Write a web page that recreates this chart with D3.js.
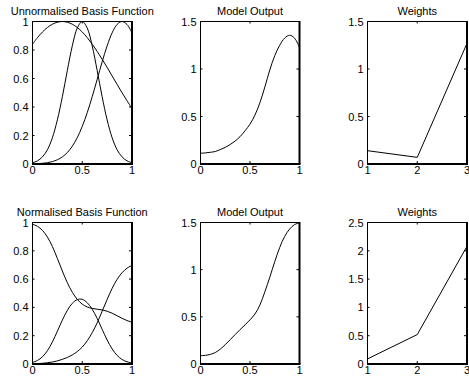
<!DOCTYPE html>
<html>
<head>
<meta charset="utf-8">
<script src="https://cdn.jsdelivr.net/npm/d3@7"></script>
<style>
  body { margin: 0; background: #fff; }
  svg { display: block; }
  text { font-family: "Liberation Sans", Arial, Helvetica, sans-serif; font-size: 11px; fill: #000; }
</style>
</head>
<body>
<div class="canvas"></div>
<script>
// sample positions along x (0..1) for the basis / output curves
const xs = [0, 0.05, 0.1, 0.15, 0.2, 0.25, 0.3, 0.35, 0.4, 0.45, 0.5,
            0.55, 0.6, 0.65, 0.7, 0.75, 0.8, 0.85, 0.9, 0.95, 1];

// unnormalised basis functions
const unnormA = [0.841, 0.887, 0.926, 0.958, 0.981, 0.995, 1.000, 0.995, 0.981, 0.958, 0.926,
                 0.887, 0.841, 0.790, 0.735, 0.678, 0.618, 0.559, 0.500, 0.444, 0.390];
const unnormB = [0.009, 0.022, 0.050, 0.100, 0.185, 0.310, 0.472, 0.656, 0.829, 0.954, 1.000,
                 0.954, 0.829, 0.656, 0.472, 0.310, 0.185, 0.100, 0.050, 0.022, 0.009];
const unnormC = [0.001, 0.002, 0.005, 0.009, 0.017, 0.030, 0.050, 0.080, 0.125, 0.185, 0.264,
                 0.360, 0.472, 0.594, 0.717, 0.829, 0.920, 0.979, 1.000, 0.979, 0.920];

// normalised basis functions (bottom-left panel)
const normA = [0.988, 0.973, 0.944, 0.897, 0.830, 0.746, 0.657, 0.575, 0.507, 0.457, 0.423,
               0.403, 0.393, 0.387, 0.382, 0.373, 0.359, 0.341, 0.323, 0.307, 0.296];
const normB = [0.011, 0.025, 0.051, 0.094, 0.156, 0.232, 0.310, 0.379, 0.429, 0.455, 0.457,
               0.433, 0.387, 0.322, 0.245, 0.170, 0.107, 0.061, 0.032, 0.016, 0.007];
const normC = [0.001, 0.003, 0.005, 0.009, 0.014, 0.022, 0.033, 0.046, 0.064, 0.088, 0.120,
               0.164, 0.221, 0.291, 0.373, 0.456, 0.534, 0.598, 0.645, 0.677, 0.697];

// model outputs
const modelOut1 = [0.113, 0.117, 0.123, 0.132, 0.152, 0.175, 0.205, 0.242, 0.288, 0.350, 0.420,
                   0.515, 0.645, 0.810, 0.990, 1.140, 1.250, 1.325, 1.355, 1.325, 1.225];
const modelOut2 = [0.088, 0.092, 0.102, 0.122, 0.158, 0.205, 0.258, 0.312, 0.365, 0.415, 0.468,
                   0.530, 0.625, 0.765, 0.920, 1.085, 1.235, 1.352, 1.430, 1.478, 1.496];

// weights
const weightIdx = [1, 2, 3];
const weights1 = [0.14, 0.07, 1.27];
const weights2 = [0.09, 0.52, 2.08];

// tick labels
const unitTicks = [0, 0.5, 1];
const basisTicks = [0, 0.2, 0.4, 0.6, 0.8, 1];
const outTicks = [0, 0.5, 1, 1.5];
const weightTicks2 = [0, 0.5, 1, 1.5, 2, 2.5];

const titles = ['Unnormalised Basis Function', 'Model Output', 'Weights',
                'Normalised Basis Function', 'Model Output', 'Weights'];

const svg = d3.select('.canvas')
  .append('svg')
  .attr('width', 469)
  .attr('height', 385);

// panel frames [left, right] / [top, bottom]
const cols = [[32.5, 132], [200.5, 299.5], [367.5, 467]];
const rows = [[21.5, 164], [222.5, 364]];

const panels = [
  {col: 0, row: 0, xd: [0, 1], yd: [0, 1], xt: unitTicks, yt: basisTicks,
   series: [[xs, unnormA], [xs, unnormB], [xs, unnormC]]},
  {col: 1, row: 0, xd: [0, 1], yd: [0, 1.5], xt: unitTicks, yt: outTicks,
   series: [[xs, modelOut1]]},
  {col: 2, row: 0, xd: [1, 3], yd: [0, 1.5], xt: weightIdx, yt: outTicks,
   series: [[weightIdx, weights1]], straight: true},
  {col: 0, row: 1, xd: [0, 1], yd: [0, 1], xt: unitTicks, yt: basisTicks,
   series: [[xs, normA], [xs, normB], [xs, normC]]},
  {col: 1, row: 1, xd: [0, 1], yd: [0, 1.5], xt: unitTicks, yt: outTicks,
   series: [[xs, modelOut2]]},
  {col: 2, row: 1, xd: [1, 3], yd: [0, 2.5], xt: weightIdx, yt: weightTicks2,
   series: [[weightIdx, weights2]], straight: true}
];

panels.forEach((p, i) => {
  const [x0, x1] = cols[p.col];
  const [y0, y1] = rows[p.row];
  const x = d3.scaleLinear().domain(p.xd).range([x0, x1]);
  const y = d3.scaleLinear().domain(p.yd).range([y1, y0]);
  const g = svg.append('g');

  // data lines
  const line = d3.line()
    .x(d => x(d[0]))
    .y(d => y(d[1]))
    .curve(p.straight ? d3.curveLinear : d3.curveCatmullRom.alpha(0.5));

  p.series.forEach(s => {
    g.append('path')
      .datum(s[0].map((v, j) => [v, s[1][j]]))
      .attr('d', line)
      .attr('fill', 'none')
      .attr('stroke', '#000')
      .attr('stroke-width', 1);
  });

  // box: thin top / left, heavier bottom / right
  g.append('line').attr('x1', x0).attr('x2', x1).attr('y1', y0).attr('y2', y0)
    .attr('stroke', '#000').attr('stroke-width', 1);
  g.append('line').attr('x1', x0).attr('x2', x0).attr('y1', y0).attr('y2', y1)
    .attr('stroke', '#000').attr('stroke-width', 1);
  g.append('line').attr('x1', x0 - 0.5).attr('x2', x1 + 1).attr('y1', y1).attr('y2', y1)
    .attr('stroke', '#000').attr('stroke-width', 2);
  g.append('line').attr('x1', x1).attr('x2', x1).attr('y1', y0 - 0.5).attr('y2', y1)
    .attr('stroke', '#000').attr('stroke-width', 2);

  // inward ticks on all four sides
  const tl = 2;
  p.xt.forEach(t => {
    g.append('line').attr('x1', x(t)).attr('x2', x(t)).attr('y1', y1).attr('y2', y1 - tl - 1)
      .attr('stroke', '#000').attr('stroke-width', 1);
    g.append('line').attr('x1', x(t)).attr('x2', x(t)).attr('y1', y0).attr('y2', y0 + tl)
      .attr('stroke', '#000').attr('stroke-width', 1);
  });
  p.yt.forEach(t => {
    g.append('line').attr('x1', x0).attr('x2', x0 + tl).attr('y1', y(t)).attr('y2', y(t))
      .attr('stroke', '#000').attr('stroke-width', 1);
    g.append('line').attr('x1', x1).attr('x2', x1 - tl - 1).attr('y1', y(t)).attr('y2', y(t))
      .attr('stroke', '#000').attr('stroke-width', 1);
  });

  // tick labels
  g.selectAll('.xl').data(p.xt).enter().append('text')
    .attr('x', d => x(d))
    .attr('y', y1 + 10)
    .attr('text-anchor', 'middle')
    .text(d => String(d));
  g.selectAll('.yl').data(p.yt).enter().append('text')
    .attr('x', x0 - 4)
    .attr('y', d => y(d) + 4)
    .attr('text-anchor', 'end')
    .text(d => String(d));

  // title
  g.append('text')
    .attr('x', (x0 + x1) / 2)
    .attr('y', y0 - 7)
    .attr('text-anchor', 'middle')
    .text(titles[i]);
});
</script>
</body>
</html>
